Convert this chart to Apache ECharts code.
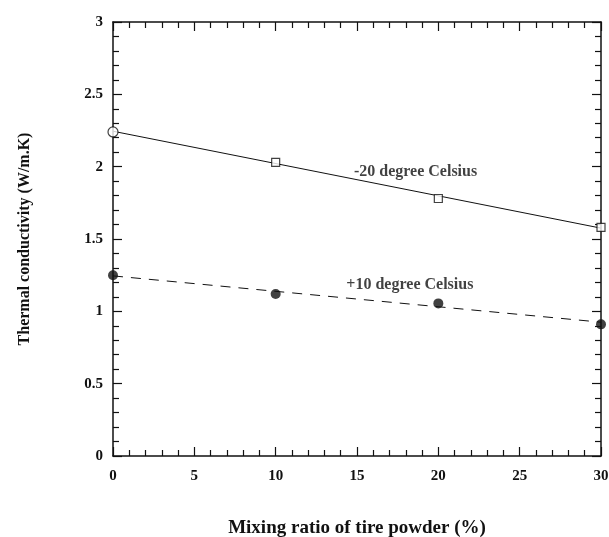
<!DOCTYPE html>
<html>
<head>
<meta charset="utf-8">
<script src="https://cdn.jsdelivr.net/npm/echarts@6/dist/echarts.min.js"></script>
<style>
html,body{margin:0;padding:0;background:#fff;}
#chart{width:609px;height:537px;}
</style>
</head>
<body>
<div id="chart"></div>
<script>
// Data
var mixingRatio = [0, 10, 20, 30];
var coldValues = [2.24, 2.03, 1.78, 1.58];   // -20 degree Celsius
var warmValues = [1.25, 1.12, 1.055, 0.91];  // +10 degree Celsius
var fitX = [0, 30];
var coldFit = [2.245, 1.575];
var warmFit = [1.245, 0.925];
var coldLabel = '-20 degree Celsius';
var warmLabel = '+10 degree Celsius';
var coldLabelAt = [18.6, 1.965];
var warmLabelAt = [18.25, 1.184];
var xTitle = 'Mixing ratio of tire powder (%)';
var yTitle = 'Thermal conductivity (W/m.K)';

var FONT = '"Liberation Serif", "DejaVu Serif", serif';
var INK = '#111';

function pairs(xs, ys) { return xs.map(function (x, i) { return [x, ys[i]]; }); }

var axisCommon = {
  axisLine: { show: true, onZero: false, lineStyle: { color: INK, width: 1.5 } },
  axisTick: { show: true, inside: true, length: 9, lineStyle: { color: INK, width: 1.2 } },
  minorTick: { show: true, splitNumber: 5, length: 6, lineStyle: { color: INK, width: 1.2 } },
  splitLine: { show: false },
  minorSplitLine: { show: false }
};

function mk(base, extra) { return Object.assign({}, base, extra); }

var annLabel = { show: true, position: 'inside', fontFamily: FONT, fontWeight: 'bold', fontSize: 16, color: INK };

var chart = echarts.init(document.getElementById('chart'), null, { renderer: 'canvas' });
chart.setOption({
  backgroundColor: '#fff',
  animation: false,
  grid: { left: 113, right: 8, top: 22, bottom: 81, containLabel: false, outerBoundsMode: 'none' },
  xAxis: [
    mk(axisCommon, {
      type: 'value', min: 0, max: 30, interval: 5, position: 'bottom',
      name: xTitle, nameLocation: 'middle', nameGap: 63,
      nameTextStyle: { fontFamily: FONT, fontWeight: 'bold', fontSize: 19, color: INK },
      axisLabel: { fontFamily: FONT, fontWeight: 'bold', fontSize: 15, color: INK, margin: 13 }
    }),
    mk(axisCommon, {
      type: 'value', min: 0, max: 30, interval: 5, position: 'top',
      axisLabel: { show: false }
    })
  ],
  yAxis: [
    mk(axisCommon, {
      type: 'value', min: 0, max: 3, interval: 0.5, position: 'left',
      name: yTitle, nameLocation: 'middle', nameGap: 80, nameRotate: 90,
      nameTextStyle: { fontFamily: FONT, fontWeight: 'bold', fontSize: 16, color: INK },
      axisLabel: { fontFamily: FONT, fontWeight: 'bold', fontSize: 15, color: INK, margin: 10 }
    }),
    mk(axisCommon, {
      type: 'value', min: 0, max: 3, interval: 0.5, position: 'right',
      axisLabel: { show: false }
    })
  ],
  series: [
    {
      type: 'line', data: pairs(fitX, coldFit), symbol: 'none',
      lineStyle: { color: INK, width: 1 }, z: 2
    },
    {
      type: 'line', data: pairs(fitX, warmFit), symbol: 'none',
      lineStyle: { color: INK, width: 1, type: [10, 8] }, z: 2
    },
    {
      type: 'scatter', z: 5,
      data: pairs(mixingRatio, coldValues).map(function (p, i) {
        return { value: p, symbol: i === 0 ? 'circle' : 'rect', symbolSize: i === 0 ? 10 : 8 };
      }),
      itemStyle: { color: '#fff', borderColor: INK, borderWidth: 1.2 }
    },
    {
      type: 'scatter', z: 5, symbol: 'circle', symbolSize: 10,
      data: pairs(mixingRatio, warmValues),
      itemStyle: { color: INK }
    },
    {
      type: 'scatter', z: 6, symbol: 'circle', symbolSize: 1,
      itemStyle: { color: 'rgba(0,0,0,0)' },
      data: [
        { value: coldLabelAt, label: mk(annLabel, { formatter: coldLabel }) },
        { value: warmLabelAt, label: mk(annLabel, { formatter: warmLabel }) }
      ]
    }
  ]
});
</script>
</body>
</html>
